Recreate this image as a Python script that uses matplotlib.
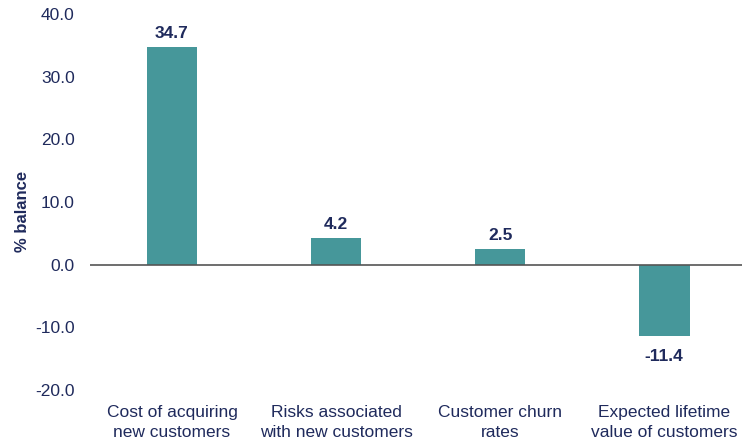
import matplotlib.pyplot as plt

plt.rcParams['font.family'] = ['Liberation Sans', 'DejaVu Sans']

categories = ['Cost of acquiring\nnew customers', 'Risks associated\nwith new customers',
              'Customer churn\nrates', 'Expected lifetime\nvalue of customers']
values = [34.7, 4.2, 2.5, -11.4]
yticks = [-20, -10, 0, 10, 20, 30, 40]

teal = '#46979a'
navy = '#1f2a5c'

fig = plt.figure(figsize=(7.42, 4.42), dpi=100)
ax = fig.add_axes([90 / 742, 1 - 390 / 442, 1 - 90 / 742, (390 - 14) / 442])

x = range(len(categories))
ax.bar(x, values, width=0.31, color=teal, zorder=2)
ax.axhline(0, color='#555555', linewidth=1.2, zorder=3)

for xi, v in zip(x, values):
    off = 1.0 if v >= 0 else -2.0
    ax.text(xi, v + off, f'{v:.1f}', ha='center', va='bottom' if v >= 0 else 'top',
            fontsize=12.5, fontweight='bold', color=navy)

ax.set_xlim(-0.5, 3.475)
ax.set_ylim(-20, 40)
ax.set_yticks(yticks)
ax.set_yticklabels([f'{t:.1f}' for t in yticks], fontsize=12.5, color=navy)
ax.set_xticks(list(x))
ax.set_xticklabels(categories, fontsize=12.5, color=navy, linespacing=1.4)
ax.tick_params(length=0, axis='y', pad=11)
ax.tick_params(length=0, axis='x', pad=11)
for s in ax.spines.values():
    s.set_visible(False)
ax.set_ylabel('% balance', fontsize=12, fontweight='bold', color=navy)
ax.yaxis.set_label_coords((30 - 90) / 652, 0.475)

fig.savefig('out.png', dpi=100)
